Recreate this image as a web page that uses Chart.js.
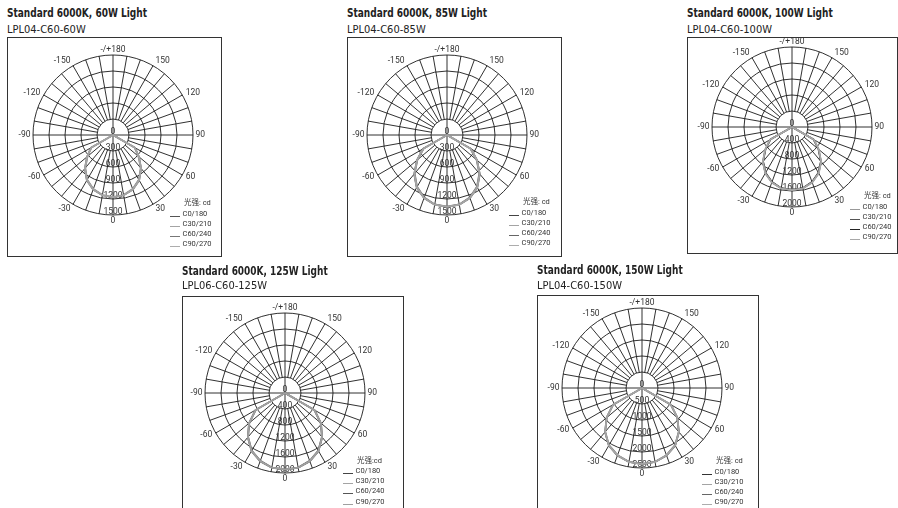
<!DOCTYPE html>
<html>
<head>
<meta charset="utf-8">
<script src="https://cdn.jsdelivr.net/npm/chart.js@4.4.1/dist/chart.umd.min.js"></script>
<style>
  body { margin: 0; background: #fff; }
  #page { position: relative; width: 898px; height: 508px; overflow: hidden; background: #fff; }
  .ttl { position: absolute; font-family: 'DejaVu Sans', sans-serif; font-stretch: condensed; font-weight: bold; font-size: 11.5px; line-height: 13px; color: #222; white-space: nowrap; transform-origin: 0 0; }
  .sub { position: absolute; font-family: 'DejaVu Sans', sans-serif; font-stretch: condensed; font-size: 11px; line-height: 12px; color: #222; white-space: nowrap; transform-origin: 0 0; }
  .box { position: absolute; border: 1px solid #333; box-sizing: border-box; }
  canvas { position: absolute; }
  .lg { position: absolute; font-family: Roboto, 'Noto Sans CJK SC', sans-serif; font-size: 7.5px; line-height: 10px; color: #333; white-space: nowrap; }
  .lgline { position: absolute; width: 10px; height: 0; border-top: 1px solid #333; }
</style>
</head>
<body>
<div id="page"></div>
<script>
// directions of the radar, clockwise from the top (180 = up, 0 = down)
const categories = [180, 170, 160, 150, 140, 130, 120, 110, 100, 90, 80, 70, 60, 50, 40, 30, 20, 10,
                    0, -10, -20, -30, -40, -50, -60, -70, -80, -90, -100, -110, -120, -130, -140, -150, -160, -170];
const angleTicks = ['-/+180', '150', '120', '90', '60', '30', '0', '-30', '-60', '-90', '-120', '-150'];
const gammas = [0, 10, 20, 30, 40, 50, 60, 70, 80, 90];
const seriesNames = ['C0/180', 'C30/210', 'C60/240', 'C90/270'];

const titles = ['Standard 6000K, 60W Light', 'Standard 6000K, 85W Light', 'Standard 6000K, 100W Light',
                'Standard 6000K, 125W Light', 'Standard 6000K, 150W Light'];
const models = ['LPL04-C60-60W', 'LPL04-C60-85W', 'LPL04-C60-100W', 'LPL06-C60-125W', 'LPL04-C60-150W'];
const legendTitles = ['光强: cd', '光强: cd', '光强: cd', '光强:cd', '光强: cd'];
const maxCd = [1500, 1500, 2000, 2000, 2500];
const stepCd = [300, 300, 400, 400, 500];

// intensity (cd) at gamma 0..90 for C0/180, C30/210, C60/240, C90/270
const cd60W = [
  [1170, 1150, 1090, 985, 825, 640, 480, 0, 0, 0],
  [1165, 1145, 1085, 975, 815, 630, 470, 0, 0, 0],
  [1160, 1140, 1075, 965, 805, 620, 460, 0, 0, 0],
  [1165, 1150, 1085, 980, 820, 635, 475, 0, 0, 0]
];
const cd85W = [
  [1350, 1330, 1260, 1140, 960, 740, 520, 0, 0, 0],
  [1345, 1325, 1255, 1130, 950, 730, 510, 0, 0, 0],
  [1340, 1320, 1245, 1120, 940, 720, 500, 0, 0, 0],
  [1345, 1330, 1255, 1135, 955, 735, 515, 0, 0, 0]
];
const cd100W = [
  [1580, 1560, 1480, 1340, 1140, 880, 640, 0, 0, 0],
  [1575, 1555, 1470, 1330, 1130, 870, 630, 0, 0, 0],
  [1570, 1550, 1460, 1320, 1120, 860, 620, 0, 0, 0],
  [1575, 1560, 1475, 1335, 1135, 875, 635, 0, 0, 0]
];
const cd125W = [
  [1920, 1900, 1820, 1680, 1450, 1180, 860, 0, 0, 0],
  [1915, 1895, 1810, 1670, 1440, 1170, 850, 0, 0, 0],
  [1910, 1890, 1800, 1660, 1430, 1160, 840, 0, 0, 0],
  [1915, 1900, 1815, 1675, 1445, 1175, 855, 0, 0, 0]
];
const cd150W = [
  [2380, 2350, 2250, 2080, 1800, 1450, 1050, 0, 0, 0],
  [2375, 2345, 2240, 2070, 1790, 1440, 1040, 0, 0, 0],
  [2370, 2340, 2230, 2060, 1780, 1430, 1030, 0, 0, 0],
  [2375, 2350, 2245, 2075, 1795, 1445, 1045, 0, 0, 0]
];
const panelData = [cd60W, cd85W, cd100W, cd125W, cd150W];

// layout
const R = 80, PAD = 26;
const centers = [[113, 135], [447, 135], [792, 127], [285, 393], [642, 388]];
const boxes = [[7, 37, 215, 220], [347, 37, 215, 220], [687, 37, 211, 217], [182, 296, 222, 220], [537, 295, 222, 220]];
const titleBase = [[7, 17.5], [347, 17.5], [687, 17.2], [182, 275.2], [537, 274.7]];
const subBase = [[7, 33.3], [347, 33.3], [687, 33.3], [182, 290], [537, 289.5]];
const legendPos = [[170, 203], [509, 202], [850, 196], [343, 460.5], [702, 461]];
const lineColors = [
  ['#555', '#a4a4a4', '#777', '#adadad'],
  ['#444', '#a4a4a4', '#666', '#adadad'],
  ['#999', '#555', '#222', '#a8a8a8'],
  ['#444', '#a4a4a4', '#555', '#a0a0a0'],
  ['#333', '#a4a4a4', '#666', '#adadad']
];
// lighter series are drawn on top (lower order = on top)
const drawOrder = [
  [3, 0, 2, 1],
  [3, 0, 2, 1],
  [1, 2, 3, 0],
  [3, 1, 2, 0],
  [3, 0, 2, 1]
];

const page = document.getElementById('page');

function el(cls, x, y, text) {
  const d = document.createElement('div');
  d.className = cls;
  d.style.left = x + 'px';
  d.style.top = y + 'px';
  if (text !== undefined) d.textContent = text;
  page.appendChild(d);
  return d;
}

function toRadar(vals) {
  return categories.map(a => {
    const k = gammas.indexOf(Math.abs(a));
    return k < 0 ? 0 : vals[k];
  });
}

const polarText = {
  id: 'polarText',
  beforeDatasetsDraw(chart) {
    const s = chart.scales.r;
    const ctx = chart.ctx;
    ctx.save();
    ctx.fillStyle = '#333';
    ctx.font = '8.5px Roboto, sans-serif';
    ctx.textBaseline = 'middle';
    ctx.textAlign = 'center';
    // intensity ticks along the downward axis
    s.ticks.forEach(t => {
      const p = s.getPointPosition(18, s.getDistanceFromCenterForValue(t.value) - 3.5);
      ctx.fillText(String(t.value), p.x, p.y);
    });
    // angle labels every 30 degrees
    categories.forEach((a, i) => {
      if (i % 3) return;
      const dir = s.getPointPosition(i, 1);
      const ca = Math.cos(dir.angle), sa = Math.sin(dir.angle);
      const p = s.getPointPosition(i, s.drawingArea + 2.5 + 3 * Math.abs(sa));
      ctx.textAlign = Math.abs(ca) < 0.01 ? 'center' : (ca > 0 ? 'left' : 'right');
      ctx.fillText(angleTicks[i / 3], p.x, p.y);
    });
    ctx.restore();
  }
};

panelData.forEach((rows, p) => {
  const b = boxes[p];
  const box = el('box', b[0], b[1]);
  box.style.width = b[2] + 'px';
  box.style.height = b[3] + 'px';

  const t = el('ttl', titleBase[p][0], titleBase[p][1] - 10.5, titles[p]);
  const s = el('sub', subBase[p][0], subBase[p][1] - 9.6, models[p]);
  // squeeze to the condensed widths of the original lettering
  t.style.transform = 'scaleX(' + (titles[p].length * 5.6 / t.offsetWidth).toFixed(3) + ')';
  s.style.transform = 'scaleX(' + (models[p].length * 6.08 / s.offsetWidth).toFixed(3) + ')';

  const size = 2 * R + 2 * PAD;
  const cv = document.createElement('canvas');
  cv.width = size;
  cv.height = size;
  cv.style.left = (centers[p][0] - size / 2) + 'px';
  cv.style.top = (centers[p][1] - size / 2) + 'px';
  page.appendChild(cv);

  const step = stepCd[p];
  new Chart(cv.getContext('2d'), {
    type: 'radar',
    data: {
      labels: categories,
      datasets: seriesNames.map((name, k) => ({
        label: name,
        data: toRadar(rows[k]),
        borderColor: lineColors[p][k],
        borderWidth: 1.5,
        pointRadius: 0,
        fill: false,
        order: drawOrder[p][k]
      }))
    },
    options: {
      responsive: false,
      animation: false,
      devicePixelRatio: 1,
      layout: { padding: PAD },
      plugins: { legend: { display: false }, tooltip: { enabled: false } },
      elements: { line: { tension: 0 } },
      scales: {
        r: {
          min: 0,
          max: maxCd[p],
          ticks: { display: false, stepSize: step },
          pointLabels: { display: false },
          grid: { circular: true, color: '#1a1a1a', lineWidth: 0.9 },
          angleLines: {
            color: '#1a1a1a',
            lineWidth: 0.9,
            // spokes start at the first ring, the two axes run through the centre
            borderDash: ctx => ctx.index % 9 === 0 ? [] : [0, ctx.scale.getDistanceFromCenterForValue(step), 1000, 0]
          }
        }
      }
    },
    plugins: [polarText]
  });

  // legend
  const [lx, ly] = legendPos[p];
  el('lg', lx + 14, ly - 5, legendTitles[p]);
  seriesNames.forEach((name, k) => {
    const y = ly + 10.5 + 10.2 * k;
    const ln = el('lgline', lx, y + 2);
    ln.style.borderTopColor = lineColors[p][k];
    el('lg', lx + 12.5, y - 5, name);
  });
});
</script>
</body>
</html>
